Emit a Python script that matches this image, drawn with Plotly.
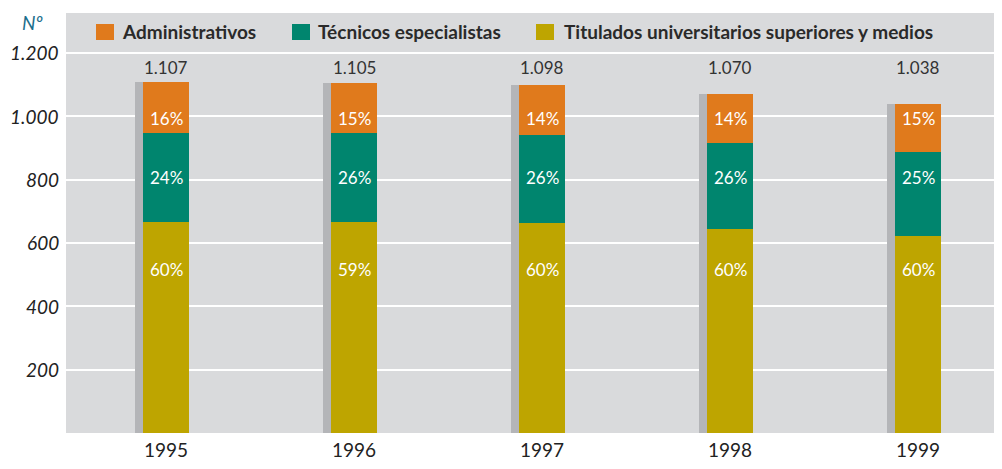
import plotly.graph_objects as go

years = ["1995", "1996", "1997", "1998", "1999"]
totals = [1107, 1105, 1098, 1070, 1038]
titulados = [666, 666, 663, 644, 623]
tecnicos = [282, 282, 278, 272, 264]
administrativos = [159, 157, 157, 154, 151]
pct_tit = ["60%", "59%", "60%", "60%", "60%"]
pct_tec = ["24%", "26%", "26%", "26%", "25%"]
pct_adm = ["16%", "15%", "14%", "14%", "15%"]
total_labels = ["1.107", "1.105", "1.098", "1.070", "1.038"]
y_ticks = [200, 400, 600, 800, 1000, 1200]
y_ticklabels = ["200", "400", "600", "800", "1.000", "1.200"]
series_names = ["Administrativos", "Técnicos especialistas",
                "Titulados universitarios superiores y medios"]

C_ADM = "#e07a1c"
C_TEC = "#00856e"
C_TIT = "#bea500"
C_SHADOW = "#b4b5b8"
C_BG = "#d9dadc"
FONT = "Lato"

# page body has an 8px default margin; figure is sized/positioned to compensate
OFF = 8
PL, PT, PB = 66 - OFF, 13 - OFF, 36
FW, FH = 1002 - OFF, 469 - OFF
PH = FH - PT - PB  # plot height in px
W = FW - PL        # plot width in px

xs = list(range(len(years)))
PX = 188.0
BW = 46 / PX

fig = go.Figure()
fig.add_trace(go.Bar(x=xs, y=totals, base=0, width=54 / PX, offset=-31 / PX,
                     marker=dict(color=C_SHADOW, line=dict(width=0)),
                     showlegend=False, hoverinfo="skip"))
base_tec = titulados
base_adm = [a + b for a, b in zip(titulados, tecnicos)]
fig.add_trace(go.Bar(x=xs, y=titulados, base=[0] * 5, width=BW, offset=-BW / 2,
                     marker=dict(color=C_TIT, line=dict(width=0)),
                     name=series_names[2], showlegend=False))
fig.add_trace(go.Bar(x=xs, y=tecnicos, base=base_tec, width=BW, offset=-BW / 2,
                     marker=dict(color=C_TEC, line=dict(width=0)),
                     name=series_names[1], showlegend=False))
fig.add_trace(go.Bar(x=xs, y=administrativos, base=base_adm, width=BW, offset=-BW / 2,
                     marker=dict(color=C_ADM, line=dict(width=0)),
                     name=series_names[0], showlegend=False))

ann = []
for i in xs:
    ann.append(dict(x=i, y=515, text=pct_tit[i], showarrow=False,
                    font=dict(family=FONT, size=17, color="white")))
    ann.append(dict(x=i, y=808, text=pct_tec[i], showarrow=False,
                    font=dict(family=FONT, size=17, color="white")))
    ann.append(dict(x=i, y=992, text=pct_adm[i], showarrow=False,
                    font=dict(family=FONT, size=17, color="white")))
    ann.append(dict(x=i, y=1155, text=total_labels[i], showarrow=False,
                    font=dict(family=FONT, size=17, color="#333333")))

for v, t in zip(y_ticks, y_ticklabels):
    ann.append(dict(xref="paper", yref="y", x=-5 / W, y=v, xanchor="right", yanchor="middle",
                    text="<i>" + t + "</i>", showarrow=False,
                    font=dict(family=FONT, size=19, color="#222222", style="italic")))


def ypaper(py):
    # screen pixel y -> paper fraction
    return (433 - py) / PH


ann.append(dict(xref="paper", yref="paper", x=-34 / W, y=ypaper(22),
                xanchor="center", yanchor="middle",
                text="<i>Nº</i>", showarrow=False,
                font=dict(family=FONT, size=19, color="#1b6e8c", style="italic")))

shapes = []
legend_items = [(96, 120, C_ADM, series_names[0]),
                (292, 316, C_TEC, series_names[1]),
                (536, 562, C_TIT, series_names[2])]

for sx, tx, col, name in legend_items:
    shapes.append(dict(type="rect", xref="paper", yref="paper",
                       x0=(sx - 66) / W, x1=(sx + 18 - 66) / W,
                       y0=ypaper(40), y1=ypaper(24),
                       fillcolor=col, line=dict(width=0), layer="above"))
    ann.append(dict(xref="paper", yref="paper", x=(tx - 66) / W, y=ypaper(32),
                    xanchor="left", yanchor="middle", text="<b>" + name + "</b>", showarrow=False,
                    font=dict(family=FONT, size=19, color="#2a2a2a", weight=900)))

fig.update_layout(
    width=FW, height=FH,
    margin=dict(l=PL, r=0, t=PT, b=PB, autoexpand=False),
    paper_bgcolor="white", plot_bgcolor=C_BG,
    barmode="overlay", bargap=0,
    annotations=ann, shapes=shapes,
    showlegend=False,
    xaxis=dict(range=[-100 / PX, 836 / PX], tickvals=xs, ticktext=years,
               showgrid=False, zeroline=False, showline=False, ticks="",
               automargin=False, ticklabelstandoff=4,
               tickfont=dict(family=FONT, size=19, color="#222222")),
    yaxis=dict(range=[0, 1326], tickvals=y_ticks, showticklabels=False,
               showgrid=True, gridcolor="white", gridwidth=2, zeroline=False,
               showline=False, ticks="", automargin=False),
)

fig.write_html("out.html")
